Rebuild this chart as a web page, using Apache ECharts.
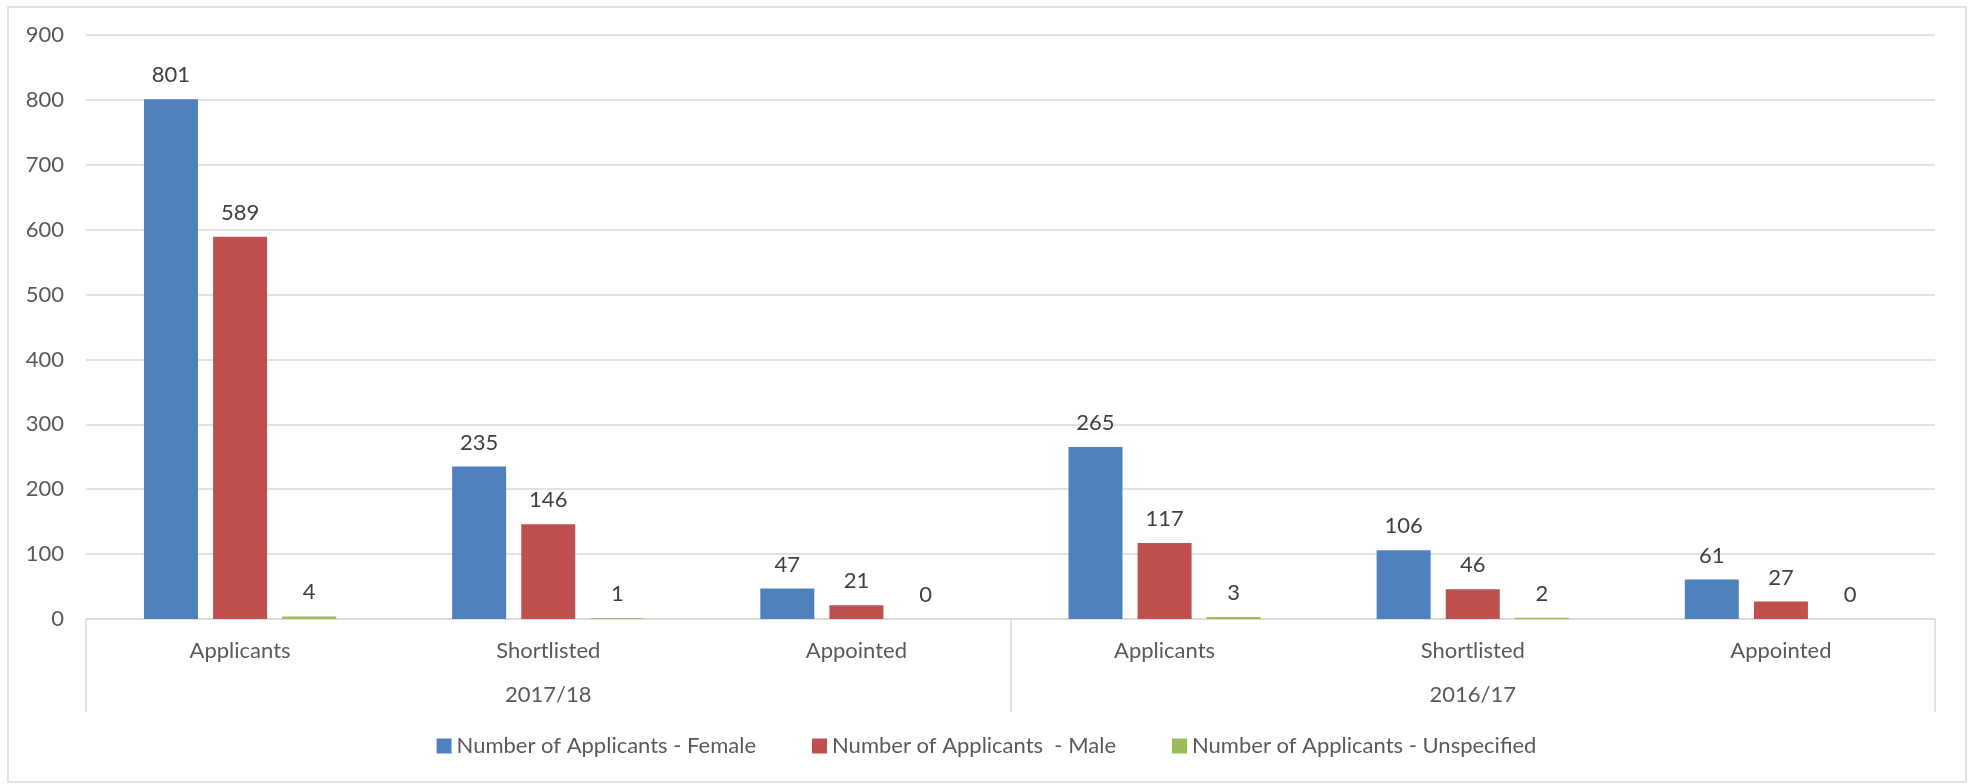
<!DOCTYPE html>
<html>
<head>
<meta charset="utf-8">
<script src="https://cdn.jsdelivr.net/npm/echarts@6/dist/echarts.min.js"></script>
<style>
html,body{margin:0;padding:0;background:#fff;}
#chart{width:1973px;height:784px;}
</style>
</head>
<body>
<div id="chart"></div>
<script>
const categories = ['Applicants','Shortlisted','Appointed','Applicants','Shortlisted','Appointed'];
const years = ['2017/18','2016/17'];
const seriesNames = ['Number of Applicants - Female','Number of Applicants  - Male','Number of Applicants - Unspecified'];
const female = [801,235,47,265,106,61];
const male = [589,146,21,117,46,27];
const unspecified = [4,1,0,3,2,0];
const colors = ['#4F81BD','#C0504D','#9BBB59'];

const FONT = 'Lato';
const FS = 22;
const chart = echarts.init(document.getElementById('chart'), null, {renderer:'canvas'});
function barSeries(name, data, color){
  return {
    name: name, type:'bar', data: data, xAxisIndex:0,
    barWidth: 54, barGap:'28%',
    itemStyle:{color: color},
    label:{show:true, position:'top', distance:13, color:'#404040', fontSize:FS, fontFamily:FONT},
    emphasis:{disabled:true}
  };
}
chart.setOption({
  animation:false,
  textStyle:{fontFamily:FONT},
  graphic:[{type:'rect', shape:{x:8,y:7,width:1958,height:775}, style:{fill:'none', stroke:'#d9d9d9', lineWidth:1.5}, silent:true}],
  grid:{left:86, right:38, top:35, bottom:165},
  legend:{
    data: seriesNames, bottom:22, left:'center', itemWidth:15, itemHeight:15, itemGap:56,
    icon:'rect', textStyle:{color:'#595959', fontSize:FS, fontFamily:FONT}
  },
  xAxis:[
    {type:'category', data:categories, position:'bottom',
     axisLine:{show:true, lineStyle:{color:'#d9d9d9', width:1.5}},
     axisTick:{show:false},
     axisLabel:{color:'#595959', fontSize:FS, fontFamily:FONT, margin:21, interval:0}},
    {type:'category', data:years, position:'bottom', gridIndex:0,
     axisLine:{show:false},
     axisTick:{show:true, length:93, lineStyle:{color:'#d9d9d9', width:1.5}},
     axisLabel:{color:'#595959', fontSize:FS, fontFamily:FONT, margin:65, interval:0}}
  ],
  yAxis:{type:'value', min:0, max:900, interval:100,
    axisLine:{show:false}, axisTick:{show:false},
    splitLine:{lineStyle:{color:'#d9d9d9', width:1.5}},
    axisLabel:{color:'#595959', fontSize:FS, fontFamily:FONT, margin:22}},
  series:[
    barSeries(seriesNames[0], female, colors[0]),
    barSeries(seriesNames[1], male, colors[1]),
    barSeries(seriesNames[2], unspecified, colors[2])
  ]
});
</script>
</body>
</html>
